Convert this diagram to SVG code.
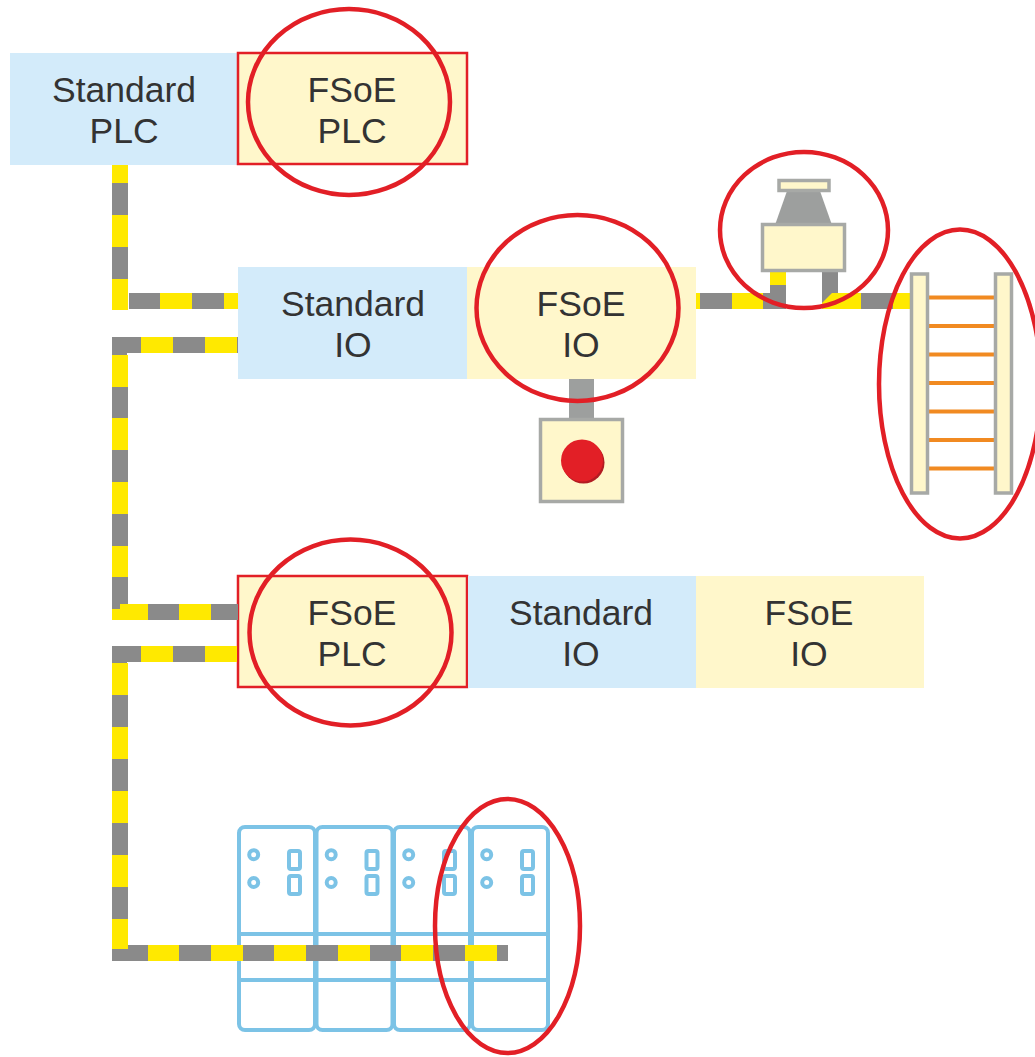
<svg xmlns="http://www.w3.org/2000/svg" width="1035" height="1057" viewBox="0 0 1035 1057">
<style>
.blue{fill:#d3ebfa}.cream{fill:#fff7cb}
.t{font-family:"Liberation Sans",Arial,sans-serif;font-size:35.5px;fill:#333;text-anchor:middle}
.ring{fill:none;stroke:#e21f26;stroke-width:4.5}
.redbox{fill:#fff7cb;stroke:#e21f26;stroke-width:2.5}
.y{fill:#ffe900}.g{fill:#8a8a8a}
.part{fill:#fff7cb;stroke:#a7a9a6;stroke-width:3.5}
.stem{fill:#9d9f9e}
.rung{stroke:#f18a21;stroke-width:4}
.slice{fill:#fff;stroke:#7cc3e6;stroke-width:4}
.line{stroke:#7cc3e6;stroke-width:4;fill:none}
.sl{fill:none;stroke:#7cc3e6;stroke-width:4}
</style>
<defs>
<g id="sliceShape">
<rect class="slice" x="0" y="0" width="76" height="203" rx="6"/>
<path class="line" d="M0 107H76M0 153H76"/>
<circle class="sl" cx="14.7" cy="27.7" r="4.5"/>
<circle class="sl" cx="14.7" cy="55.5" r="4.5"/>
<rect class="sl" x="50" y="24" width="11" height="18" rx="2"/>
<rect class="sl" x="50" y="49" width="11" height="18" rx="2"/>
</g>
</defs>

<g id="standard-plc"><rect class="blue" x="10" y="53" width="228" height="112"/><text class="t" x="124" y="102">Standard</text><text class="t" x="124" y="143">PLC</text></g>
<g id="fsoe-plc-1"><rect class="redbox" x="238" y="53" width="229" height="111"/><text class="t" x="352" y="102">FSoE</text><text class="t" x="352" y="143">PLC</text></g>
<g id="standard-io-1"><rect class="blue" x="238" y="267" width="229" height="112"/><text class="t" x="353" y="316">Standard</text><text class="t" x="353" y="357">IO</text></g>
<g id="fsoe-io-1"><rect class="cream" x="467" y="267" width="229" height="112"/><text class="t" x="581" y="316">FSoE</text><text class="t" x="581" y="357">IO</text></g>
<g id="fsoe-plc-2"><rect class="redbox" x="238" y="576" width="229" height="111"/><text class="t" x="352" y="625">FSoE</text><text class="t" x="352" y="666">PLC</text></g>
<g id="standard-io-2"><rect class="blue" x="468" y="576" width="228" height="112"/><text class="t" x="581" y="625">Standard</text><text class="t" x="581" y="666">IO</text></g>
<g id="fsoe-io-2"><rect class="cream" x="696" y="576" width="228" height="112"/><text class="t" x="809" y="625">FSoE</text><text class="t" x="809" y="666">IO</text></g>

<g id="estop">
<rect class="stem" x="569" y="379" width="25" height="40"/>
<rect class="part" x="540.500" y="419.500" width="82" height="82"/>
<circle cx="583.500" cy="462.500" r="21" fill="#b21c22"/>
<circle cx="582" cy="460.500" r="21" fill="#e21f26"/>
</g>

<g id="io-slices">
<use href="#sliceShape" x="239" y="827"/>
<use href="#sliceShape" x="316.500" y="827"/>
<use href="#sliceShape" x="394" y="827"/>
<use href="#sliceShape" x="472" y="827"/>
</g>

<g id="connectors">
<g id="cable-1">
<rect class="y" x="112" y="165" width="16" height="18"/><rect class="g" x="112" y="183" width="16" height="32"/><rect class="y" x="112" y="215" width="16" height="32"/><rect class="g" x="112" y="247" width="16" height="32"/><rect class="y" x="112" y="279" width="16" height="31"/>
<rect class="g" x="129" y="293" width="31" height="16"/><rect class="y" x="160" y="293" width="32" height="16"/><rect class="g" x="192" y="293" width="32" height="16"/><rect class="y" x="224" y="293" width="14" height="16"/>
</g>
<g id="cable-2">
<rect class="g" x="112" y="337" width="29" height="16"/><rect class="g" x="112" y="337" width="15" height="18"/><rect class="y" x="141" y="337" width="32" height="16"/><rect class="g" x="173" y="337" width="32" height="16"/><rect class="y" x="205" y="337" width="32" height="16"/><rect class="g" x="237" y="337" width="1" height="16"/>
<rect class="y" x="112" y="355" width="16" height="32"/><rect class="g" x="112" y="387" width="16" height="31"/><rect class="y" x="112" y="418" width="16" height="32"/><rect class="g" x="112" y="450" width="16" height="32"/><rect class="y" x="112" y="482" width="16" height="32"/><rect class="g" x="112" y="514" width="16" height="32"/><rect class="y" x="112" y="546" width="16" height="31"/><rect class="g" x="112" y="577" width="16" height="32"/>
<path class="y" d="M112 609H120V604H148V620H112Z"/>
<rect class="g" x="148" y="604" width="31" height="16"/><rect class="y" x="179" y="604" width="32" height="16"/><rect class="g" x="211" y="604" width="27" height="16"/>
</g>
<g id="cable-3">
<rect class="g" x="112" y="646" width="29" height="16"/><rect class="g" x="112" y="646" width="15" height="17"/><rect class="y" x="141" y="646" width="32" height="16"/><rect class="g" x="173" y="646" width="32" height="16"/><rect class="y" x="205" y="646" width="32" height="16"/>
<rect class="y" x="112" y="663" width="16" height="32"/><rect class="g" x="112" y="695" width="16" height="32"/><rect class="y" x="112" y="727" width="16" height="32"/><rect class="g" x="112" y="759" width="16" height="32"/><rect class="y" x="112" y="791" width="16" height="32"/><rect class="g" x="112" y="823" width="16" height="32"/><rect class="y" x="112" y="855" width="16" height="32"/><rect class="g" x="112" y="887" width="16" height="32"/><rect class="y" x="112" y="919" width="16" height="30"/>
<path class="g" d="M112 949H128V945H148V961H112Z"/>
<rect class="y" x="148" y="945" width="31" height="16"/><rect class="g" x="179" y="945" width="32" height="16"/><rect class="y" x="211" y="945" width="32" height="16"/><rect class="g" x="243" y="945" width="31" height="16"/><rect class="y" x="274" y="945" width="32" height="16"/><rect class="g" x="306" y="945" width="32" height="16"/><rect class="y" x="338" y="945" width="32" height="16"/><rect class="g" x="370" y="945" width="31" height="16"/><rect class="y" x="401" y="945" width="32" height="16"/><rect class="g" x="433" y="945" width="32" height="16"/><rect class="y" x="465" y="945" width="32" height="16"/><rect class="g" x="497" y="945" width="11" height="16"/>
</g>
<g id="cable-4">
<rect class="y" x="696" y="293" width="4" height="16"/><rect class="g" x="700" y="293" width="32" height="16"/><rect class="y" x="732" y="293" width="31" height="16"/><rect class="g" x="763" y="293" width="23" height="16"/><rect class="y" x="770" y="271" width="16" height="14"/><rect class="g" x="770" y="285" width="16" height="24"/>
<rect class="g" x="822" y="271" width="16" height="32"/>
<path class="y" d="M822 309V303L832 293H861V309Z"/><rect class="g" x="861" y="293" width="32" height="16"/><rect class="y" x="893" y="293" width="18" height="16"/>
</g>
</g>

<g id="sensor">
<path class="stem" d="M787 191H820L832 225H775Z"/>
<rect class="part" x="779" y="180.500" width="50" height="10"/>
<rect class="part" x="762.500" y="224.500" width="82" height="46"/>
</g>

<g id="light-curtain">
<path class="rung" d="M928 297.500H995M928 326H995M928 354.500H995M928 383H995M928 411.500H995M928 440H995M928 468.500H995"/>
<rect class="part" x="911.500" y="274" width="16" height="219"/>
<rect class="part" x="995.500" y="274" width="16" height="219"/>
</g>

<g id="safety-rings">
<ellipse class="ring" cx="349" cy="102" rx="101" ry="93"/>
<ellipse class="ring" cx="577.500" cy="308" rx="101" ry="93"/>
<ellipse class="ring" cx="350.500" cy="632.500" rx="101" ry="93"/>
<ellipse class="ring" cx="804" cy="230" rx="84" ry="78"/>
<ellipse class="ring" cx="960" cy="384" rx="81" ry="154.500"/>
<ellipse class="ring" cx="507.500" cy="926" rx="72.500" ry="127"/>
</g>
</svg>
